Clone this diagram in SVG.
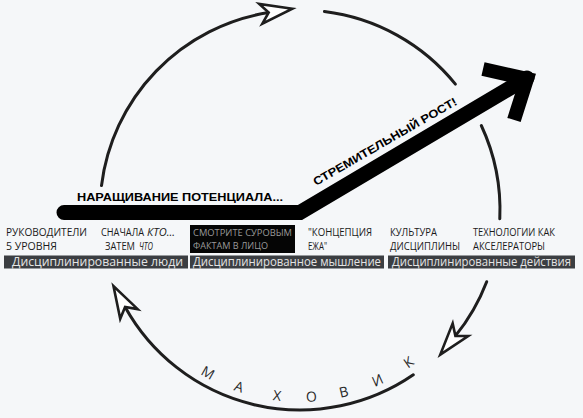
<svg xmlns="http://www.w3.org/2000/svg" width="583" height="418" viewBox="0 0 583 418">
  <defs>
    <marker id="ah" markerUnits="userSpaceOnUse" viewBox="-36 -14 40 28" refX="-24" refY="0" markerWidth="40" markerHeight="28" orient="auto" overflow="visible">
      <path d="M0,0 L-32,-10 L-24,0 L-32,10 Z" fill="#ffffff" stroke="#1e1e1e" stroke-width="2.6" stroke-linejoin="miter"/>
    </marker>
    <style>
      .arc { fill: none; stroke: #1e1e1e; stroke-width: 3; stroke-linecap: round; }
      .lbl { font-family: "Open Sans", "Liberation Sans", sans-serif; font-size: 10px; fill: #1a1a1a; }
      .it { font-style: italic; }
      .dim { fill: #9a9a9a; font-size: 8.5px; }
      .bar { fill: #3b3e42; }
      .bartxt { font-family: "Open Sans", "Liberation Sans", sans-serif; font-size: 12px; fill: #e4e4e4; }
      .head { font-family: "Liberation Sans", "DejaVu Sans", sans-serif; font-weight: bold; font-size: 11.5px; fill: #000; }
      .fly { font-family: "Open Sans", "Liberation Sans", sans-serif; font-size: 14px; fill: #2a2a2a; }
    </style>
  </defs>
  <rect x="0" y="0" width="583" height="418" fill="#f5f7f9"/>

  <g id="connectors">
    <path class="arc" d="M101.5,185.6 A200,200 0 0 1 268.7,12.5" marker-end="url(#ah)"/>
    <path class="arc" d="M324.4,11.5 A200,200 0 0 1 455.4,84.1"/>
    <path class="arc" d="M481.3,125.5 A200,200 0 0 1 499.8,218.7"/>
    <path class="arc" d="M486.7,281.7 A200,200 0 0 1 455.4,335.9" marker-end="url(#ah)"/>
    <path class="arc" d="M413.3,374.8 A200,200 0 0 1 125.1,307.0" marker-end="url(#ah)"/>
  </g>

  <g id="growth-arrow">
    <polyline points="64,212.5 300,212.5 527,78" fill="none" stroke="#000" stroke-width="15" stroke-linecap="round" stroke-linejoin="miter"/>
    <polyline points="483,69 527,79 514,120" fill="none" stroke="#000" stroke-width="14" stroke-linecap="butt" stroke-linejoin="miter"/>
    <text class="head" x="77" y="201" textLength="206" lengthAdjust="spacingAndGlyphs">НАРАЩИВАНИЕ ПОТЕНЦИАЛА...</text>
    <text class="head" transform="translate(316,186) rotate(-30)" x="0" y="0" textLength="164" lengthAdjust="spacingAndGlyphs">СТРЕМИТЕЛЬНЫЙ РОСТ!</text>
  </g>

  <g id="flywheel-label">
    <text class="fly" text-anchor="middle" x="205.5" y="377.1" transform="rotate(29.5 205.5 377.1)">М</text>
    <text class="fly" text-anchor="middle" x="237.5" y="391.5" transform="rotate(19 237.5 391.5)">А</text>
    <text class="fly" text-anchor="middle" x="276.6" y="400.6" transform="rotate(7 276.6 400.6)">Х</text>
    <text class="fly" text-anchor="middle" x="311.7" y="401.6" transform="rotate(-3.5 311.7 401.6)">О</text>
    <text class="fly" text-anchor="middle" x="344.8" y="396.7" transform="rotate(-13.5 344.8 396.7)">В</text>
    <text class="fly" text-anchor="middle" x="379.6" y="384.7" transform="rotate(-24.5 379.6 384.7)">И</text>
    <text class="fly" text-anchor="middle" x="411.5" y="366.3" transform="rotate(-35.5 411.5 366.3)">К</text>
  </g>

  <g id="node-leaders">
    <text class="lbl" x="6" y="236" textLength="81" lengthAdjust="spacingAndGlyphs">РУКОВОДИТЕЛИ</text>
    <text class="lbl" x="6" y="250" textLength="51" lengthAdjust="spacingAndGlyphs">5 УРОВНЯ</text>
  </g>
  <g id="node-first-who">
    <text class="lbl" x="101" y="236" textLength="43" lengthAdjust="spacingAndGlyphs">СНАЧАЛА</text>
    <text class="lbl it" x="147" y="236" textLength="28" lengthAdjust="spacingAndGlyphs">КТО...</text>
    <text class="lbl" x="105" y="250" textLength="30" lengthAdjust="spacingAndGlyphs">ЗАТЕМ</text>
    <text class="lbl it" x="139" y="250" textLength="14" lengthAdjust="spacingAndGlyphs">ЧТО</text>
  </g>
  <g id="node-brutal-facts">
    <rect x="190" y="225" width="105" height="28" fill="#050505"/>
    <text class="lbl dim" x="193" y="236" textLength="99" lengthAdjust="spacingAndGlyphs">СМОТРИТЕ СУРОВЫМ</text>
    <text class="lbl dim" x="193" y="249" textLength="75" lengthAdjust="spacingAndGlyphs">ФАКТАМ В ЛИЦО</text>
  </g>
  <g id="node-hedgehog">
    <text class="lbl" x="308" y="236" textLength="64" lengthAdjust="spacingAndGlyphs">"КОНЦЕПЦИЯ</text>
    <text class="lbl" x="308" y="250" textLength="19" lengthAdjust="spacingAndGlyphs">ЕЖА"</text>
  </g>
  <g id="node-culture">
    <text class="lbl" x="390" y="236" textLength="47" lengthAdjust="spacingAndGlyphs">КУЛЬТУРА</text>
    <text class="lbl" x="390" y="250" textLength="70" lengthAdjust="spacingAndGlyphs">ДИСЦИПЛИНЫ</text>
  </g>
  <g id="node-technology">
    <text class="lbl" x="473" y="236" textLength="82" lengthAdjust="spacingAndGlyphs">ТЕХНОЛОГИИ КАК</text>
    <text class="lbl" x="473" y="250" textLength="72" lengthAdjust="spacingAndGlyphs">АКСЕЛЕРАТОРЫ</text>
  </g>

  <g id="node-disciplined-people">
    <rect class="bar" x="4" y="255.5" width="184" height="13"/>
    <text class="bartxt" x="12" y="266" textLength="171" lengthAdjust="spacingAndGlyphs">Дисциплинированные люди</text>
  </g>
  <g id="node-disciplined-thought">
    <rect class="bar" x="190" y="255.5" width="194" height="13"/>
    <text class="bartxt" x="193" y="266" textLength="188" lengthAdjust="spacingAndGlyphs">Дисциплинированное мышление</text>
  </g>
  <g id="node-disciplined-action">
    <rect class="bar" x="388" y="255.5" width="187" height="13"/>
    <text class="bartxt" x="392" y="266" textLength="179" lengthAdjust="spacingAndGlyphs">Дисциплинированные действия</text>
  </g>
</svg>
